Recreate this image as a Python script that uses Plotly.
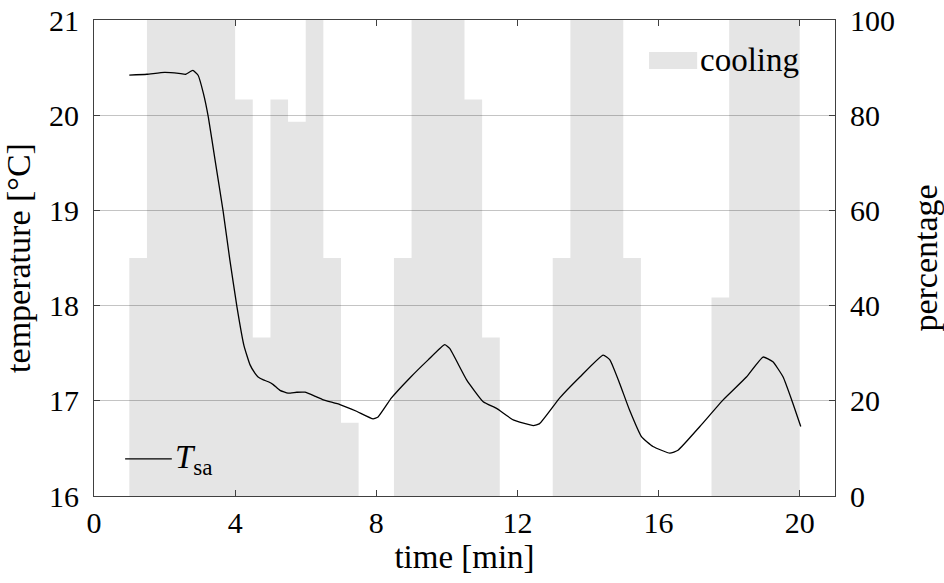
import plotly.graph_objects as go

# cooling percentage, 0.5-min steps (start of each step)
cool_t = [1.0, 1.5, 2.0, 2.5, 3.0, 3.5, 4.0, 4.5, 5.0, 5.5, 6.0, 6.5, 7.0, 7.5, 8.0,
          8.5, 9.0, 9.5, 10.0, 10.5, 11.0, 11.5, 12.0, 12.5, 13.0, 13.5, 14.0, 14.5,
          15.0, 15.5, 16.0, 16.5, 17.0, 17.5, 18.0, 18.5, 19.0, 19.5, 20.0]
cool_pct = [50, 100, 100, 100, 100, 100, 83.3, 33.3, 83.3, 78.6, 100, 50, 15.4, 0, 0,
            50, 100, 100, 100, 83.3, 33.3, 0, 0, 0, 50, 100, 100, 100,
            50, 0, 0, 0, 0, 41.7, 100, 100, 100, 100, 100]

# supply air temperature
tsa_t = [1.0, 1.5, 2.0, 2.4, 2.6, 2.8, 2.95, 3.10, 3.24, 3.43, 3.66, 3.85, 4.05, 4.25,
         4.42, 4.56, 4.65, 4.80, 4.94, 5.08, 5.27, 5.50, 5.75, 5.98, 6.25, 6.50, 6.97,
         7.44, 7.91, 8.05, 8.43, 8.95, 9.47, 9.94, 10.08, 10.56, 11.03, 11.41, 11.88,
         12.45, 12.63, 13.20, 13.77, 14.43, 14.62, 14.90, 15.18, 15.52, 15.84, 16.32,
         16.55, 17.17, 17.83, 18.49, 18.96, 19.24, 19.53, 19.81, 20.03]
tsa_val = [20.42, 20.43, 20.45, 20.44, 20.43, 20.47, 20.42, 20.23, 19.98, 19.53, 18.99,
           18.48, 17.99, 17.58, 17.38, 17.29, 17.25, 17.22, 17.20, 17.17, 17.11, 17.08,
           17.09, 17.09, 17.05, 17.01, 16.96, 16.89, 16.81, 16.83, 17.03, 17.24, 17.43,
           17.59, 17.55, 17.22, 16.99, 16.92, 16.80, 16.74, 16.76, 17.03, 17.25, 17.48,
           17.43, 17.18, 16.90, 16.62, 16.52, 16.45, 16.48, 16.73, 17.01, 17.25, 17.46,
           17.41, 17.25, 16.97, 16.73]

x_ticks = [0, 4, 8, 12, 16, 20]
temp_ticks = [16, 17, 18, 19, 20, 21]
pct_ticks = [0, 20, 40, 60, 80, 100]

FONT = "Liberation Serif"
FS = 30      # tick labels
FX = 33      # x title / legend
FY = 34      # y titles
FRAME = "#404040"
COOL_FILL = "rgba(0,0,0,0.10)"

fig = go.Figure()
fig.add_trace(go.Scatter(
    x=cool_t, y=cool_pct, yaxis="y", mode="lines", line_shape="hv",
    line=dict(width=0, color="rgba(0,0,0,0)"), fill="tozeroy",
    fillcolor=COOL_FILL, name="cooling", showlegend=False, hoverinfo="skip"))
fig.add_trace(go.Scatter(
    x=tsa_t, y=tsa_val, yaxis="y2", mode="lines",
    line=dict(color="black", width=1.3, shape="spline", smoothing=0.4),
    name="<i>T</i><sub>sa</sub>", showlegend=False))

# legend keys (paper coordinates)
fig.add_shape(type="rect", xref="paper", yref="paper", x0=0.749, x1=0.814,
              y0=0.897, y1=0.933, fillcolor=COOL_FILL, line=dict(width=0))
fig.add_annotation(xref="paper", yref="paper", x=0.815, y=0.917, xanchor="left",
                   yanchor="middle", text="cooling", showarrow=False,
                   font=dict(family=FONT, size=FX, color="black"))
fig.add_shape(type="line", xref="paper", yref="paper", x0=0.042, x1=0.105,
              y0=0.078, y1=0.078, line=dict(color="black", width=1.3))
fig.add_annotation(xref="paper", yref="paper", x=0.107, y=0.076, xanchor="left",
                   yanchor="middle", text="<i>T</i><sub>sa</sub>", showarrow=False,
                   font=dict(family=FONT, size=FX, color="black"))

fig.update_layout(
    width=944, height=583,
    margin=dict(l=94, r=109, t=20, b=87, autoexpand=False),
    plot_bgcolor="white", paper_bgcolor="white",
    font=dict(family=FONT, size=FS, color="black"),
    showlegend=False,
    xaxis=dict(range=[0, 21], tickvals=x_ticks, ticks="inside", ticklen=6,
               tickcolor=FRAME, showline=True, linecolor=FRAME, linewidth=1.2,
               mirror="ticks", showgrid=False, zeroline=False, automargin=False,
               tickfont=dict(family=FONT, size=FS),
               title=dict(text="time [min]", standoff=3,
                          font=dict(family=FONT, size=FX))),
    yaxis=dict(range=[0, 100], tickvals=pct_ticks, side="right", ticks="inside",
               ticklen=6, tickcolor=FRAME, showline=True, linecolor=FRAME,
               linewidth=1.2, showgrid=True, gridcolor="#c4c4c4", gridwidth=1,
               zeroline=False, ticklabelstandoff=8, automargin=False,
               tickfont=dict(family=FONT, size=FS),
               title=dict(text="percentage", standoff=20,
                          font=dict(family=FONT, size=FY))),
    yaxis2=dict(range=[16, 21], tickvals=temp_ticks, side="left", overlaying="y",
                ticks="inside", ticklen=6, tickcolor=FRAME, showline=True,
                linecolor=FRAME, linewidth=1.2, showgrid=False, zeroline=False,
                ticklabelstandoff=8, automargin=False,
                tickfont=dict(family=FONT, size=FS),
                title=dict(text="temperature [°C]", standoff=13,
                           font=dict(family=FONT, size=FY))),
)

fig.write_html("out.html")
